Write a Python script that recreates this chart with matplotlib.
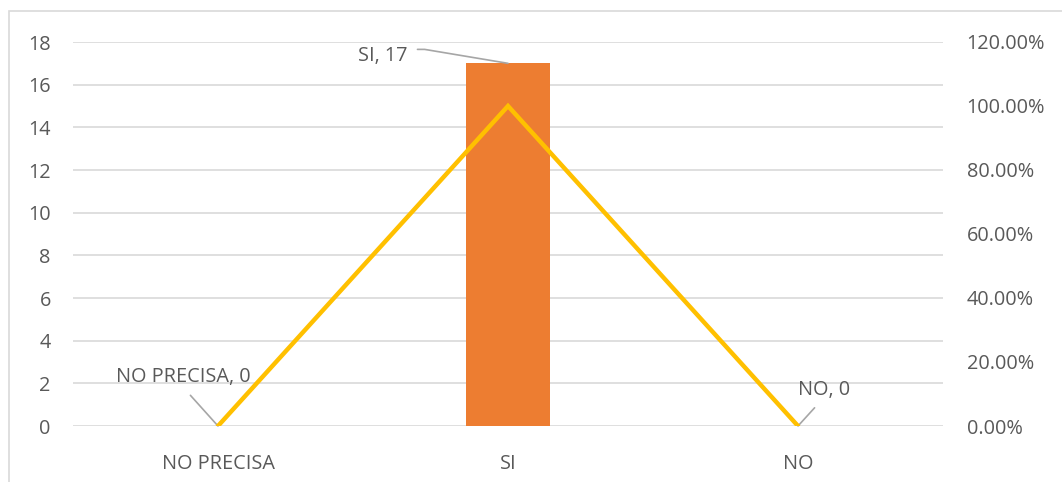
import matplotlib.pyplot as plt
from matplotlib.patches import Rectangle
from matplotlib.ticker import FuncFormatter, MultipleLocator

categories = ["NO PRECISA", "SI", "NO"]
counts = [0, 17, 0]
percentages = [0.0, 1.0, 0.0]

bar_color = "#ED7D31"
line_color = "#FFC000"
text_color = "#595959"
grid_color = "#D9D9D9"

plt.rcParams["font.family"] = ["Open Sans", "DejaVu Sans"]
fs = 14.3

fig = plt.figure(figsize=(10.62, 4.82), dpi=100)
# chart area frame
fig.patches.append(Rectangle((9 / 1062, -0.01), 1.02, 1 - 11 / 482 + 0.01,
                             transform=fig.transFigure, fill=False,
                             edgecolor="#D9D9D9", linewidth=1.2))

ax = fig.add_axes([73 / 1062, 1 - 426 / 482, 870 / 1062, 384 / 482])
x = list(range(len(categories)))
ax.bar(x, counts, width=0.29, color=bar_color, zorder=2)
ax.set_xlim(-0.5, 2.5)
ax.set_ylim(0, 18)
ax.yaxis.set_major_locator(MultipleLocator(2))
ax.set_xticks(x)
ax.set_xticklabels(categories)
ax.grid(axis="y", color=grid_color, linewidth=1.2, zorder=0)
ax.set_axisbelow(True)
for s in ax.spines.values():
    s.set_visible(False)
ax.tick_params(length=0, labelsize=fs, colors=text_color)
ax.tick_params(axis="x", pad=20)
ax.tick_params(axis="y", pad=16)

ax2 = ax.twinx()
ax2.plot(x, percentages, color=line_color, linewidth=3.2,
         solid_capstyle="round", solid_joinstyle="miter", zorder=3)
ax2.set_ylim(0, 1.2)
ax2.yaxis.set_major_locator(MultipleLocator(0.2))
ax2.yaxis.set_major_formatter(FuncFormatter(lambda v, p: f"{v * 100:.2f}%"))
for s in ax2.spines.values():
    s.set_visible(False)
ax2.tick_params(length=0, labelsize=fs, colors=text_color, pad=17)

# data labels with leader lines
label_style = dict(fontsize=fs, color=text_color, ha="center", va="center")
leader = dict(arrowstyle="-", color="#A6A6A6", linewidth=1.2, shrinkA=5, shrinkB=0)

ax.annotate(f"{categories[0]}, {counts[0]}", xy=(x[0], counts[0]),
            xytext=(-25, 35), textcoords="offset points",
            arrowprops=dict(leader, relpos=(0.5, 0.0)), **label_style)
ax.annotate(f"{categories[1]}, {counts[1]}", xy=(x[1], counts[1]),
            xytext=(-90, 5), textcoords="offset points",
            arrowprops=dict(leader, relpos=(1.0, 0.85),
                            connectionstyle="angle,angleA=0,angleB=-9.5,rad=0"),
            **label_style)
ax.annotate(f"{categories[2]}, {counts[2]}", xy=(x[2], counts[2]),
            xytext=(19, 26), textcoords="offset points",
            arrowprops=dict(leader, relpos=(0.45, 0.0)), **label_style)

fig.savefig("out.png", dpi=100)
